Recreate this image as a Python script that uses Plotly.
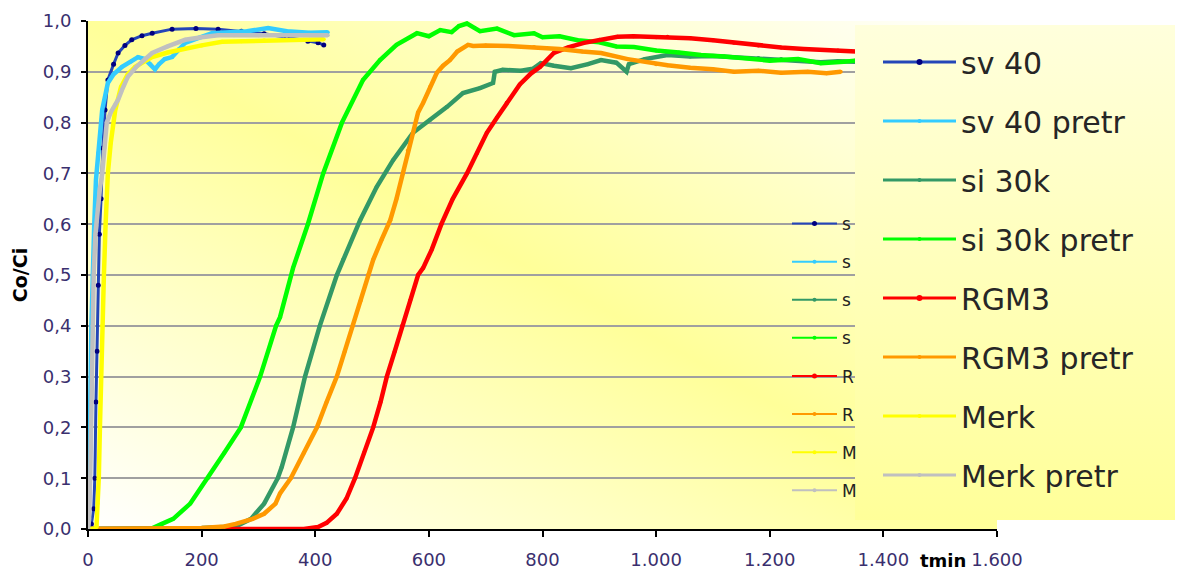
import base64
import plotly.graph_objects as go

# ---------------- data ----------------
sv40_x = [0, 6, 10, 12, 14, 16, 18, 20, 23, 26, 30, 35, 45, 53, 65, 77, 95, 113, 148, 190, 229, 270, 310, 350, 387, 405, 415]
sv40_y = [0.0, 0.01, 0.04, 0.1, 0.25, 0.35, 0.48, 0.58, 0.65, 0.75, 0.825, 0.884, 0.915, 0.937, 0.952, 0.963, 0.971, 0.976, 0.984, 0.985, 0.984, 0.98, 0.975, 0.968, 0.96, 0.957, 0.953]

sv40p_x = [0, 2, 4, 6, 8, 11, 14, 18, 25, 35, 45, 60, 75, 88, 100, 110, 118, 125, 135, 148, 160, 171, 190, 218, 250, 280, 317, 350, 390, 422]
sv40p_y = [0.0, 0.1, 0.25, 0.4, 0.5, 0.6, 0.687, 0.74, 0.825, 0.878, 0.895, 0.91, 0.92, 0.929, 0.925, 0.915, 0.905, 0.915, 0.925, 0.929, 0.945, 0.957, 0.965, 0.976, 0.978, 0.98, 0.986, 0.98, 0.977, 0.978]

si30_x = [0, 100, 200, 260, 287, 310, 334, 341, 361, 382, 408, 438, 449, 479, 508, 537, 572, 602, 632, 660, 690, 713, 716, 730, 762, 783, 797, 820, 850, 880, 903, 930, 948, 952, 980, 1020, 1060, 1100, 1137, 1180, 1220, 1260, 1290, 1320, 1350]
si30_y = [0.0, 0.0, 0.002, 0.005, 0.02, 0.05, 0.1, 0.122, 0.2, 0.3, 0.4, 0.5, 0.53, 0.608, 0.673, 0.726, 0.78, 0.805, 0.831, 0.858, 0.868, 0.878, 0.9, 0.904, 0.902, 0.906, 0.917, 0.912, 0.907, 0.915, 0.923, 0.918, 0.9, 0.915, 0.925, 0.933, 0.93, 0.931, 0.929, 0.927, 0.925, 0.922, 0.919, 0.921, 0.92]

si30p_x = [0, 60, 110, 130, 150, 180, 211, 240, 269, 303, 331, 338, 361, 387, 414, 447, 484, 514, 543, 579, 600, 620, 640, 653, 667, 690, 720, 750, 785, 800, 830, 862, 900, 930, 961, 1000, 1040, 1079, 1120, 1160, 1200, 1250, 1290, 1330, 1350]
si30p_y = [0.0, 0.0, 0.0, 0.01, 0.02, 0.05, 0.1, 0.15, 0.2, 0.3, 0.4, 0.417, 0.514, 0.6, 0.7, 0.8, 0.884, 0.923, 0.953, 0.976, 0.97, 0.982, 0.978, 0.99, 0.995, 0.98, 0.985, 0.972, 0.976, 0.968, 0.97, 0.962, 0.958, 0.95, 0.949, 0.942, 0.938, 0.933, 0.93, 0.927, 0.922, 0.925, 0.917, 0.92, 0.922]

rgm3_x = [0, 100, 200, 300, 380, 405, 420, 438, 455, 470, 486, 502, 515, 526, 540, 553, 567, 581, 590, 605, 622, 642, 667, 685, 702, 720, 737, 760, 780, 796, 820, 845, 873, 900, 932, 960, 1000, 1020, 1060, 1100, 1137, 1180, 1220, 1260, 1290, 1320, 1352]
rgm3_y = [0.0, 0.0, 0.0, 0.0, 0.0, 0.004, 0.012, 0.03, 0.06, 0.1, 0.15, 0.2, 0.25, 0.3, 0.35, 0.4, 0.45, 0.5, 0.514, 0.55, 0.6, 0.65, 0.7, 0.74, 0.78, 0.81, 0.839, 0.875, 0.897, 0.91, 0.937, 0.948, 0.957, 0.963, 0.969, 0.97, 0.968, 0.969, 0.966, 0.962, 0.957, 0.952, 0.948, 0.945, 0.943, 0.942, 0.94]

rgm3p_x = [0, 100, 200, 240, 260, 290, 310, 330, 338, 357, 380, 403, 420, 438, 452, 466, 480, 493, 502, 517, 532, 543, 554, 563, 572, 581, 590, 602, 614, 625, 637, 650, 669, 678, 700, 740, 785, 830, 870, 903, 950, 1000, 1020, 1060, 1100, 1137, 1180, 1220, 1267, 1300, 1325]
rgm3p_y = [0.0, 0.0, 0.002, 0.005, 0.01, 0.02, 0.03, 0.05, 0.07, 0.1, 0.15, 0.2, 0.25, 0.3, 0.35, 0.4, 0.45, 0.5, 0.53, 0.57, 0.608, 0.65, 0.7, 0.745, 0.78, 0.82, 0.839, 0.87, 0.898, 0.912, 0.923, 0.94, 0.953, 0.951, 0.952, 0.951, 0.949, 0.945, 0.94, 0.937, 0.925, 0.915, 0.913, 0.908, 0.905, 0.9, 0.902, 0.898, 0.9, 0.897, 0.9]

merk_x = [0, 12, 15, 17, 19, 21, 23, 25, 28, 31, 35, 40, 48, 58, 70, 83, 100, 113, 140, 171, 200, 236, 270, 310, 345, 380, 415]
merk_y = [0.0, 0.0, 0.005, 0.05, 0.1, 0.2, 0.3, 0.4, 0.5, 0.6, 0.7, 0.76, 0.825, 0.87, 0.895, 0.91, 0.922, 0.929, 0.938, 0.946, 0.952, 0.959, 0.96, 0.962, 0.963, 0.963, 0.964]

merkp_x = [0, 2, 4, 6, 8, 10, 13, 17, 21, 25, 29, 33, 40, 48, 53, 60, 70, 85, 100, 113, 140, 171, 200, 229, 257, 300, 350, 390, 422]
merkp_y = [0.0, 0.02, 0.1, 0.25, 0.4, 0.5, 0.58, 0.63, 0.67, 0.7, 0.75, 0.8, 0.82, 0.835, 0.845, 0.865, 0.89, 0.91, 0.925, 0.937, 0.95, 0.963, 0.968, 0.972, 0.972, 0.972, 0.971, 0.972, 0.972]

series_names = ["sv 40", "sv 40 pretr", "si 30k", "si 30k pretr", "RGM3", "RGM3 pretr", "Merk", "Merk pretr"]
short_names = ["s", "s", "s", "s", "R", "R", "M", "M"]
series_x = [sv40_x, sv40p_x, si30_x, si30p_x, rgm3_x, rgm3p_x, merk_x, merkp_x]
series_y = [sv40_y, sv40p_y, si30_y, si30p_y, rgm3_y, rgm3p_y, merk_y, merkp_y]
line_colors = ["#2446B8", "#33CCFF", "#339966", "#00FF00", "#FF0000", "#FF9900", "#FFFF00", "#C0C0C0"]
marker_colors = ["#000080", "#33CCFF", "#339966", "#00FF00", "#FF0000", "#FF9900", "#FFFF00", "#C0C0C0"]

x_ticks = [0, 200, 400, 600, 800, 1000, 1200, 1400, 1600]
y_ticks = [0.0, 0.1, 0.2, 0.3, 0.4, 0.5, 0.6, 0.7, 0.8, 0.9, 1.0]

FONT = "DejaVu Sans"
TICKCOL = "#3A2F6E"

fig = go.Figure()

# real series (drawn in the plot, legend shown through thin-line entries below)
for i, nm in enumerate(series_names):
    if i == 0:
        ln = dict(color=line_colors[i], width=3)
        mk = dict(color=marker_colors[i], size=5)
    else:
        ln = dict(color=line_colors[i], width=4.5)
        mk = dict(color=marker_colors[i], size=4)
    fig.add_trace(go.Scatter(
        x=series_x[i], y=series_y[i], name=nm, mode="lines+markers",
        line=ln, marker=mk, showlegend=False))

# entries for the partly hidden small legend
for i, nm in enumerate(short_names):
    fig.add_trace(go.Scatter(
        x=[None], y=[None], name=nm, mode="lines+markers",
        line=dict(color=line_colors[i], width=2),
        marker=dict(color=marker_colors[i], size=5 if i in (0, 4) else 4),
        legend="legend", legendgroup="s%d" % i, showlegend=True, hoverinfo="skip"))

# entries for the big legend
for i, nm in enumerate(series_names):
    fig.add_trace(go.Scatter(
        x=[None], y=[None], name=nm, mode="lines+markers",
        line=dict(color=line_colors[i], width=3),
        marker=dict(color=marker_colors[i], size=6 if i in (0, 4) else 4),
        legend="legend2", legendgroup="g%d" % i, showlegend=True, hoverinfo="skip"))


def svg_uri(svg):
    return "data:image/svg+xml;base64," + base64.b64encode(svg.encode()).decode()


bg_svg = ('<svg xmlns="http://www.w3.org/2000/svg" width="909" height="508" '
          'viewBox="0 0 909 508" preserveAspectRatio="none">'
          '<defs><linearGradient id="g" x1="0" y1="1" x2="1" y2="0">'
          '<stop offset="0" stop-color="#FFFFFF"/>'
          '<stop offset="0.5" stop-color="#FFFF99"/>'
          '<stop offset="1" stop-color="#FFFFFF"/>'
          '</linearGradient></defs>'
          '<rect x="0" y="0" width="909" height="508" fill="url(#g)"/></svg>')

leg_svg = ('<svg xmlns="http://www.w3.org/2000/svg" width="320" height="495" '
           'viewBox="0 0 320 495" preserveAspectRatio="none">'
           '<defs><linearGradient id="h" x1="0" y1="0" x2="0" y2="1">'
           '<stop offset="0" stop-color="#FFFFDC"/>'
           '<stop offset="1" stop-color="#FFFF99"/>'
           '</linearGradient></defs>'
           '<rect x="0" y="0" width="320" height="495" fill="url(#h)"/></svg>')

L, R, T, B = 88, 181, 21, 44
W, H = 1178, 573
PW, PH = W - L - R, H - T - B


def px(xp):
    return (xp - L) / PW


def py(yp):
    return (H - B - yp) / PH


fig.update_layout(
    width=W, height=H,
    margin=dict(l=L, r=R, t=T, b=B, autoexpand=False),
    paper_bgcolor="white",
    plot_bgcolor="rgba(0,0,0,0)",
    separators=",.",
    font=dict(family=FONT, size=18, color=TICKCOL),
    images=[
        dict(source=svg_uri(bg_svg), xref="paper", yref="paper", x=0, y=1,
             sizex=1, sizey=1, xanchor="left", yanchor="top",
             sizing="stretch", layer="below"),
        dict(source=svg_uri(leg_svg), xref="paper", yref="paper",
             x=px(855), y=py(25), sizex=320 / PW, sizey=495 / PH,
             xanchor="left", yanchor="top", sizing="stretch", layer="above"),
    ],
    legend=dict(
        x=px(787), y=py(206), xanchor="left", yanchor="top",
        bgcolor="rgba(0,0,0,0)", borderwidth=0,
        font=dict(family=FONT, size=17, color="#222222"),
        itemwidth=45, tracegroupgap=13, traceorder="grouped",
    ),
    legend2=dict(
        x=px(878), y=py(36), xanchor="left", yanchor="top",
        bgcolor="rgba(0,0,0,0)", borderwidth=0,
        font=dict(family=FONT, size=30, color="#262626"),
        itemwidth=73, tracegroupgap=17, traceorder="grouped",
    ),
    xaxis=dict(
        range=[0, 1600], tickvals=x_ticks, tickformat=",d",
        showgrid=False, zeroline=False, automargin=False,
        showline=True, linecolor="black", linewidth=2,
        ticks="outside", ticklen=6, tickwidth=2, tickcolor="black",
        ticklabelstandoff=7,
        tickfont=dict(family=FONT, size=18, color=TICKCOL),
        fixedrange=True,
    ),
    yaxis=dict(
        range=[0, 1.0], tickvals=y_ticks, tickformat=".1f",
        showgrid=True, gridcolor="#A0A0A0", gridwidth=2, zeroline=False,
        automargin=False,
        showline=True, linecolor="black", linewidth=2,
        ticks="outside", ticklen=5, tickwidth=2, tickcolor="black",
        ticklabelstandoff=6,
        tickfont=dict(family=FONT, size=18, color=TICKCOL),
        title=dict(text="<b>Co/Ci</b>", font=dict(family=FONT, size=19, color="black"), standoff=10),
        fixedrange=True,
    ),
    annotations=[
        dict(text="<b>tmin</b>", xref="paper", yref="paper",
             x=px(943), y=py(560), xanchor="center", yanchor="middle",
             showarrow=False, font=dict(family=FONT, size=18, color="black")),
    ],
    showlegend=True,
)

fig.write_html("out.html")
